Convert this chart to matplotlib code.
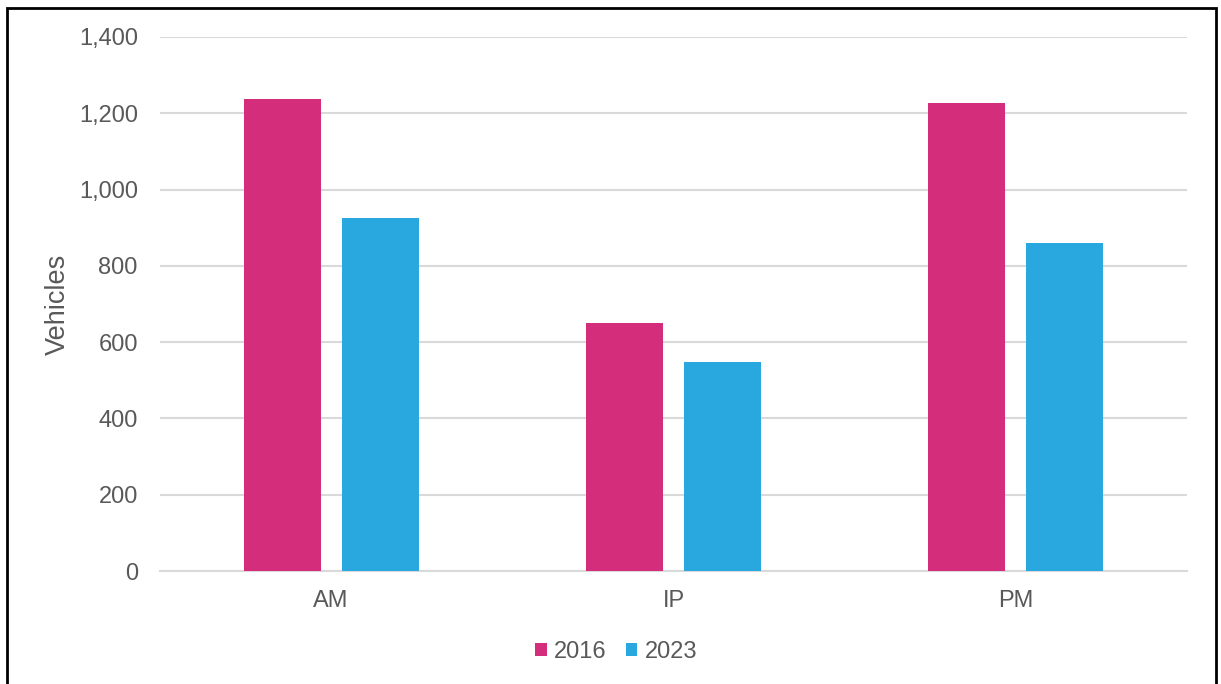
import matplotlib
matplotlib.use("Agg")
import matplotlib.pyplot as plt
from matplotlib.patches import Rectangle
from matplotlib.ticker import FuncFormatter, MultipleLocator
import numpy as np

plt.rcParams['font.family'] = ['Liberation Sans', 'DejaVu Sans']

periods = ["AM", "IP", "PM"]
series_names = ["2016", "2023"]
values_2016 = [1237, 650, 1228]
values_2023 = [925, 549, 861]
colors = ["#D42D7C", "#29A8E0"]

W, H = 1221, 684
fig = plt.figure(figsize=(W / 100, H / 100), dpi=100)
ax = fig.add_axes([160 / W, 1 - 571 / H, (1187 - 160) / W, (571 - 37) / H])

x = np.arange(len(periods))
width = 0.225
offset = 0.1435
b1 = ax.bar(x - offset, values_2016, width, color=colors[0], label=series_names[0], zorder=3)
b2 = ax.bar(x + offset, values_2023, width, color=colors[1], label=series_names[1], zorder=3)

ax.set_xlim(-0.5, 2.5)
ax.set_ylim(0, 1400)
ax.yaxis.set_major_locator(MultipleLocator(200))
ax.yaxis.set_major_formatter(FuncFormatter(lambda v, p: f"{int(v):,}"))
ax.set_xticks(x)
ax.set_xticklabels(periods)

ax.grid(axis="y", color="#D9D9D9", linewidth=1.5, zorder=0)
for s in ["top", "right", "left"]:
    ax.spines[s].set_visible(False)
ax.spines["bottom"].set_color("#D9D9D9")
ax.spines["bottom"].set_linewidth(1.5)
ax.tick_params(axis="both", length=0, colors="#595959", labelsize=17)
ax.tick_params(axis="y", pad=16)
ax.tick_params(axis="x", pad=13.5)

ax.set_ylabel("Vehicles", fontsize=19.5, color="#595959")
ax.yaxis.set_label_coords((71 - 160) / 1027, 0.5)

leg = fig.legend(handles=[b1, b2], labels=series_names, loc="center",
                 bbox_to_anchor=(616 / W, 1 - 652 / H), ncol=2, frameon=False,
                 fontsize=17, handlelength=0.5, handleheight=0.5,
                 handletextpad=0.3, columnspacing=0.8, labelcolor="#595959")

fig.patches.append(Rectangle((7 / W, -0.05), (1216 - 7) / W, 1.05 - 8 / H,
                             transform=fig.transFigure, fill=False,
                             edgecolor="black", linewidth=2))

fig.savefig("out.png", dpi=100)
